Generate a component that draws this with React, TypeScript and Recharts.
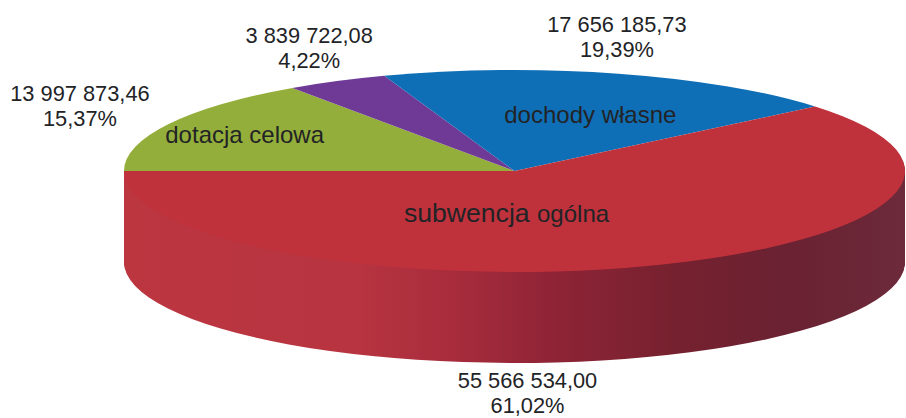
import { Pie, PieChart, Sector } from 'recharts'

// slice order runs clockwise from the left edge of the pie
const sliceNames = ['dotacja celowa', '', 'dochody własne', 'subwencja ogólna']
const sliceValues = [13997873.46, 3839722.08, 17656185.73, 55566534.0]
const valueLabels = ['13 997 873,46', '3 839 722,08', '17 656 185,73', '55 566 534,00']
const percentLabels = ['15,37%', '4,22%', '19,39%', '61,02%']
const sliceColors = ['#93AE3A', '#6E3A96', '#0F6FB6', '#BF323C']

const chartData = sliceNames.map((name, i) => ({
  name,
  value: sliceValues[i],
  fill: sliceColors[i],
  valueLabel: valueLabels[i],
  percentLabel: percentLabels[i],
}))

const WIDTH = 906
const HEIGHT = 418
const CX = 514.5
const CY = 171
const RADIUS = 390.5
const TILT = 101 / 390.5
const DEPTH = 91
const TEXT = '#222326'
const FONT = '"Liberation Sans", Arial, sans-serif'

// label placement relative to the slice's rim point
const calloutOffsets = [
  [-88.7, -23.5],
  [-27.6, -38.5],
  [-1.4, -42],
  [-119.5, 122],
]
const nameOffsets = [
  [76, 19],
  [0, 0],
  [-28, 49.4],
  [-140.5, -44],
]
const nameSizes = [
  [24, 24],
  [24, 24],
  [24, 24],
  [26.6, 24],
]

const sideStops = [
  [0, '#BC3640'],
  [0.3, '#B73440'],
  [0.42, '#A82C3C'],
  [0.55, '#8E2436'],
  [0.7, '#77212F'],
  [0.85, '#6A2232'],
  [1, '#6C2A3A'],
]

const tilted = (offset: number) => `translate(0 ${CY + offset}) scale(1 ${TILT}) translate(0 ${-CY})`

const TopSlice = (props: any) => (
  <g transform={tilted(0)}>
    <Sector {...props} stroke="none" />
  </g>
)

// the wall is the slice stacked downwards, only the big front slice shows it
const SideSlice = (props: any) => {
  if (props.index !== 3) return <g />
  const layers = Array.from({ length: DEPTH }, (_, i) => DEPTH - i)
  return (
    <g>
      <defs>
        <linearGradient id="sideShade" gradientUnits="userSpaceOnUse" x1={CX - RADIUS} y1="0" x2={CX + RADIUS} y2="0">
          {sideStops.map(([offset, color]) => (
            <stop key={offset} offset={offset} stopColor={color as string} />
          ))}
        </linearGradient>
      </defs>
      {layers.map((d) => (
        <g key={d} transform={tilted(d)}>
          <Sector {...props} fill="url(#sideShade)" stroke="none" />
        </g>
      ))}
    </g>
  )
}

const SliceLabel = (props: any) => {
  const { index, midAngle, name } = props
  const item = chartData[index]
  const rad = (midAngle * Math.PI) / 180
  const rimX = CX + RADIUS * Math.cos(rad)
  const rimY = CY - RADIUS * TILT * Math.sin(rad)
  const [ox, oy] = calloutOffsets[index]
  const [nx, ny] = nameOffsets[index]
  const parts = (name || '').split(' ')
  return (
    <g fontFamily={FONT} fill={TEXT} textAnchor="middle">
      <text x={rimX + ox} y={rimY + oy} fontSize={21.8}>
        {item.valueLabel}
      </text>
      <text x={rimX + ox} y={rimY + oy + 25} fontSize={21.8}>
        {item.percentLabel}
      </text>
      {name ? (
        <text x={rimX + nx} y={rimY + ny}>
          <tspan fontSize={nameSizes[index][0]}>{parts[0]} </tspan>
          <tspan fontSize={nameSizes[index][1]}>{parts[1]}</tspan>
        </text>
      ) : null}
    </g>
  )
}

export default function App() {
  return (
    <div style={{ position: 'absolute', left: 0, top: 0, width: WIDTH, height: HEIGHT, background: '#fff' }}>
      <PieChart width={WIDTH} height={HEIGHT} margin={{ top: 0, right: 0, bottom: 0, left: 0 }}>
        <Pie
          data={chartData}
          dataKey="value"
          nameKey="name"
          cx={CX}
          cy={CY}
          outerRadius={RADIUS}
          startAngle={180}
          endAngle={-180}
          stroke="none"
          shape={SideSlice}
          isAnimationActive={false}
        />
        <Pie
          data={chartData}
          dataKey="value"
          nameKey="name"
          cx={CX}
          cy={CY}
          outerRadius={RADIUS}
          startAngle={180}
          endAngle={-180}
          stroke="none"
          shape={TopSlice}
          label={SliceLabel}
          labelLine={false}
          isAnimationActive={false}
        />
      </PieChart>
    </div>
  )
}
